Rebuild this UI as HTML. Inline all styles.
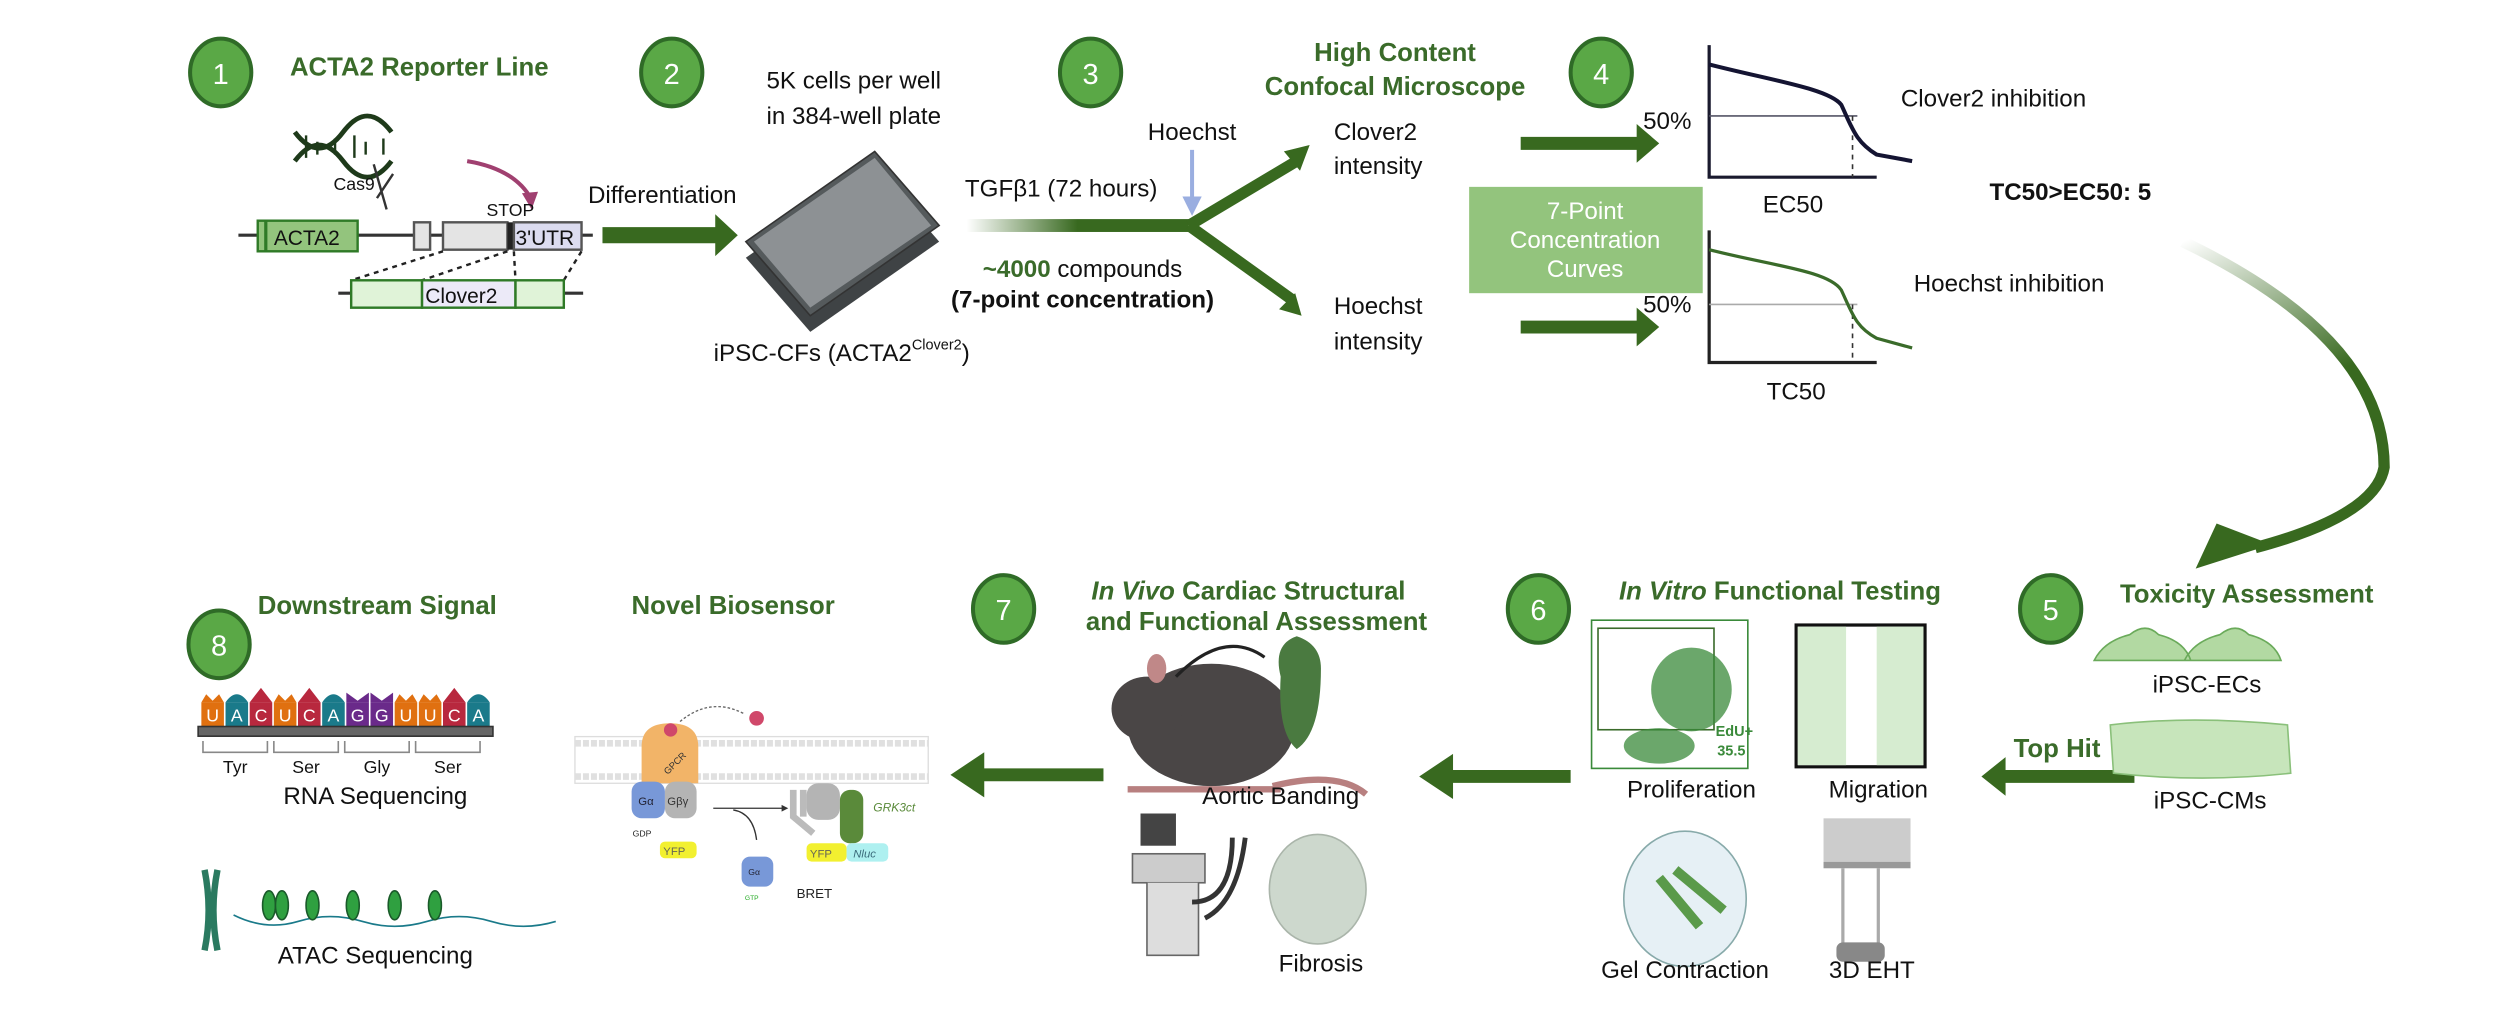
<!DOCTYPE html>
<html><head><meta charset="utf-8"><style>
html,body{margin:0;padding:0;background:#fff;}
svg{display:block;font-family:"Liberation Sans",sans-serif;}
.g{fill:#3a6b2a;font-weight:bold;font-size:16px;}
.t{fill:#111;font-size:15px;}
.s{fill:#111;font-size:11px;}
</style></head><body>
<svg width="2513" height="1011" viewBox="0 0 1560 627.6" xmlns="http://www.w3.org/2000/svg">
<defs>
<linearGradient id="fadeL" x1="0" x2="1"><stop offset="0" stop-color="#38691f" stop-opacity="0"/><stop offset="0.5" stop-color="#38691f"/></linearGradient>
<linearGradient id="curveG" x1="0" y1="0" x2="0.3" y2="1"><stop offset="0" stop-color="#38691f" stop-opacity="0"/><stop offset="0.6" stop-color="#38691f"/></linearGradient>
</defs>
<g stroke="#2f6b27" stroke-width="2.5" fill="#5aa846">
<ellipse cx="137" cy="45" rx="19" ry="21"/><ellipse cx="417" cy="45" rx="19" ry="21"/><ellipse cx="677" cy="45" rx="19" ry="21"/><ellipse cx="994" cy="45" rx="19" ry="21"/>
<ellipse cx="136" cy="400" rx="19" ry="21"/><ellipse cx="623" cy="378" rx="19" ry="21"/><ellipse cx="955" cy="378" rx="19" ry="21"/><ellipse cx="1273" cy="378" rx="19" ry="21"/>
</g>
<g fill="#fff" font-size="18" text-anchor="middle">
<text x="137" y="52">1</text><text x="417" y="52">2</text><text x="677" y="52">3</text><text x="994" y="52">4</text>
<text x="136" y="407">8</text><text x="623" y="385">7</text><text x="955" y="385">6</text><text x="1273" y="385">5</text>
</g>
<text class="g" x="180" y="47">ACTA2 Reporter Line</text>
<text class="t" x="530" y="55" text-anchor="middle">5K cells per well</text>
<text class="t" x="530" y="77" text-anchor="middle">in 384-well plate</text>
<text class="g" x="866" y="38" text-anchor="middle">High Content</text>
<text class="g" x="866" y="59" text-anchor="middle">Confocal Microscope</text>
<path d="M183,82 q15,20 30,0 t30,0 M183,100 q15,-20 30,0 t30,0" stroke="#1e3a1a" stroke-width="3" fill="none"/>
<g stroke="#1e3a1a" stroke-width="1.5"><path d="M190,84v14M197,88v8M208,86v10M220,84v14M227,88v8M238,86v10"/></g>
<text class="s" x="207" y="118" font-size="12">Cas9</text>
<path d="M232,102 l8,28 M244,108 l-10,15" stroke="#333" stroke-width="1.5" fill="none"/>
<path d="M290,100 q30,5 40,24" stroke="#a04070" stroke-width="2.5" fill="none"/><path d="M324,120 l6,10 l4,-11z" fill="#a04070"/>
<text class="s" x="302" y="134" font-size="12">STOP</text>
<line x1="148" y1="146" x2="368" y2="146" stroke="#333" stroke-width="2"/>
<rect x="160" y="137" width="62" height="19" fill="#93c47d" stroke="#2f7a27" stroke-width="1.5"/><line x1="165" y1="137" x2="165" y2="156" stroke="#2f7a27" stroke-width="2"/>
<text x="170" y="152" font-size="13" fill="#111">ACTA2</text>
<rect x="257" y="138" width="10" height="17" fill="#e4e4e4" stroke="#555" stroke-width="1.5"/>
<rect x="275" y="138" width="40" height="17" fill="#e4e4e4" stroke="#555" stroke-width="1.5"/>
<rect x="315" y="138" width="4" height="17" fill="#222"/>
<rect x="319" y="138" width="42" height="17" fill="#dcdcf0" stroke="#555" stroke-width="1.5"/>
<text x="320" y="152" font-size="13" fill="#111">3'UTR</text>
<g stroke="#222" stroke-width="1.5" stroke-dasharray="3,3" fill="none"><path d="M275,156 L218,174 M315,156 L262,174 M319,156 L320,174 M361,156 L350,174"/></g>
<line x1="210" y1="182" x2="362" y2="182" stroke="#333" stroke-width="2"/>
<rect x="218" y="174" width="44" height="17" fill="#e0f3d8" stroke="#2f7a27" stroke-width="1.5"/>
<rect x="262" y="174" width="58" height="17" fill="#eceaf8" stroke="#2f7a27" stroke-width="1.5"/>
<rect x="320" y="174" width="30" height="17" fill="#e0f3d8" stroke="#2f7a27" stroke-width="1.5"/>
<text x="264" y="188" font-size="13" fill="#111">Clover2</text>
<text class="t" x="365" y="126">Differentiation</text>
<path d="M374,141 h70 v-8 l14,13 l-14,13 v-8 h-70z" fill="#38691f"/>
<path d="M463,160 L543,104 L583,150 L503,206Z" fill="#3f4345"/>
<path d="M463,150 L543,94 L583,140 L503,196Z" fill="#555a5c" stroke="#333"/>
<path d="M468,150 L543,98 L578,140 L503,191Z" fill="#8d9194"/>
<text class="t" x="443" y="224">iPSC-CFs (ACTA2<tspan font-size="9" dy="-7">Clover2</tspan><tspan dy="7">)</tspan></text>
<text class="t" x="740" y="87" text-anchor="middle">Hoechst</text>
<line x1="740" y1="93" x2="740" y2="128" stroke="#9aaee0" stroke-width="2.5"/><path d="M734,122 l6,12 l6,-12z" fill="#9aaee0"/>
<text class="t" x="599" y="122">TGFβ1 (72 hours)</text>
<rect x="600" y="136" width="138" height="8" fill="url(#fadeL)"/>
<path d="M738,140 L805,100 M738,140 L802,186" stroke="#38691f" stroke-width="7" fill="none"/>
<path d="M797,94 l16,-4 l-6,16z M794,192 l14,4 l-4,-14z" fill="#38691f"/>
<text class="t" x="672" y="172" text-anchor="middle"><tspan fill="#3a6b2a" font-weight="bold">~4000</tspan> compounds</text>
<text class="t" x="672" y="191" text-anchor="middle" font-weight="bold">(7-point concentration)</text>
<text class="t" x="828" y="87">Clover2</text><text class="t" x="828" y="108">intensity</text>
<text class="t" x="828" y="195">Hoechst</text><text class="t" x="828" y="217">intensity</text>
<path d="M944,85 h72 v-8 l14,12 l-14,12 v-8 h-72z M944,199 h72 v-8 l14,12 l-14,12 v-8 h-72z" fill="#38691f"/>
<rect x="912" y="116" width="145" height="66" fill="#93c47d"/>
<g fill="#fff" font-size="15" text-anchor="middle"><text x="984" y="136">7-Point</text><text x="984" y="154">Concentration</text><text x="984" y="172">Curves</text></g>
<path d="M1061,28 V110 H1165" stroke="#1a1a2e" stroke-width="2" fill="none"/>
<line x1="1061" y1="72" x2="1153" y2="72" stroke="#556" stroke-width="1"/>
<line x1="1150" y1="72" x2="1150" y2="110" stroke="#333" stroke-dasharray="3,3"/>
<path d="M1061,40 C1100,50 1135,55 1143,65 C1150,80 1152,88 1165,96 L1187,100" stroke="#141432" stroke-width="2.5" fill="none"/>
<text class="t" x="1020" y="80">50%</text><text class="t" x="1113" y="132" text-anchor="middle">EC50</text>
<text class="t" x="1180" y="66">Clover2 inhibition</text>
<text x="1235" y="124" font-size="15" font-weight="bold" fill="#111">TC50&gt;EC50: 5</text>
<path d="M1061,143 V225 H1165" stroke="#222" stroke-width="2" fill="none"/>
<line x1="1061" y1="189" x2="1153" y2="189" stroke="#aaa" stroke-width="1"/>
<line x1="1150" y1="189" x2="1150" y2="225" stroke="#333" stroke-dasharray="3,3"/>
<path d="M1061,155 C1100,165 1135,168 1143,180 C1150,195 1152,203 1165,210 L1187,216" stroke="#3a6b2a" stroke-width="2" fill="none"/>
<text class="t" x="1020" y="194">50%</text><text class="t" x="1115" y="248" text-anchor="middle">TC50</text>
<text class="t" x="1188" y="181">Hoechst inhibition</text>
<path d="M1355,150 Q1480,210 1480,290 Q1475,320 1400,340" stroke="url(#curveG)" stroke-width="7" fill="none"/>
<path d="M1363,353 L1376,325 L1410,338Z" fill="#38691f"/>
<text class="g" x="160" y="381">Downstream Signal</text>
<text class="g" x="392" y="381">Novel Biosensor</text>
<text class="g" x="775" y="372" text-anchor="middle"><tspan font-style="italic">In Vivo</tspan> Cardiac Structural</text>
<text class="g" x="780" y="391" text-anchor="middle">and Functional Assessment</text>
<text class="g" x="1005" y="372"><tspan font-style="italic">In Vitro</tspan> Functional Testing</text>
<text class="g" x="1316" y="374">Toxicity Assessment</text>
<g font-size="11" fill="#fff" text-anchor="middle">
<rect x="125" y="436" width="14" height="15" fill="#e07010"/><text x="132" y="448">U</text>
<rect x="140" y="436" width="14" height="15" fill="#1a7a8a"/><text x="147" y="448">A</text>
<rect x="155" y="436" width="14" height="15" fill="#b8283e"/><text x="162" y="448">C</text>
<rect x="170" y="436" width="14" height="15" fill="#e07010"/><text x="177" y="448">U</text>
<rect x="185" y="436" width="14" height="15" fill="#b8283e"/><text x="192" y="448">C</text>
<rect x="200" y="436" width="14" height="15" fill="#1a7a8a"/><text x="207" y="448">A</text>
<rect x="215" y="436" width="14" height="15" fill="#6a2a8a"/><text x="222" y="448">G</text>
<rect x="230" y="436" width="14" height="15" fill="#6a2a8a"/><text x="237" y="448">G</text>
<rect x="245" y="436" width="14" height="15" fill="#e07010"/><text x="252" y="448">U</text>
<rect x="260" y="436" width="14" height="15" fill="#e07010"/><text x="267" y="448">U</text>
<rect x="275" y="436" width="14" height="15" fill="#b8283e"/><text x="282" y="448">C</text>
<rect x="290" y="436" width="14" height="15" fill="#1a7a8a"/><text x="297" y="448">A</text>
</g>
<g fill="#e07010"><path d="M125,436 l3,-5 l4,4 l4,-4 l3,5z M170,436 l3,-5 l4,4 l4,-4 l3,5z M245,436 l3,-5 l4,4 l4,-4 l3,5z M260,436 l3,-5 l4,4 l4,-4 l3,5z"/></g>
<g fill="#1a7a8a"><path d="M140,436 q7,-10 14,0z M200,436 q7,-10 14,0z M290,436 q7,-10 14,0z"/></g>
<g fill="#b8283e"><path d="M155,436 l7,-9 l7,9z M185,436 l7,-9 l7,9z M275,436 l7,-9 l7,9z"/></g>
<g fill="#6a2a8a"><path d="M215,436 l0,-6 l7,5 l7,-5 v6z M230,436 l0,-6 l7,5 l7,-5 v6z"/></g>
<rect x="123" y="451" width="183" height="6" fill="#666" stroke="#333"/>
<path d="M126,460 v7 h40 v-7 M170,460 v7 h40 v-7 M214,460 v7 h40 v-7 M258,460 v7 h40 v-7" stroke="#888" fill="none"/>
<g class="s" text-anchor="middle" font-size="12"><text x="146" y="480">Tyr</text><text x="190" y="480">Ser</text><text x="234" y="480">Gly</text><text x="278" y="480">Ser</text></g>
<text class="t" x="233" y="499" text-anchor="middle">RNA Sequencing</text>
<path d="M127,540 q5,25 0,50 M135,540 q-5,25 0,50" stroke="#2a7a60" stroke-width="4" fill="none"/>
<path d="M145,568 q20,10 40,4 t40,0 t40,0 t40,0 t40,0" stroke="#1a7a8a" fill="none"/>
<g fill="#2fa040" stroke="#1a5a2a"><ellipse cx="167" cy="562" rx="4" ry="9"/><ellipse cx="175" cy="562" rx="4" ry="9"/><ellipse cx="194" cy="562" rx="4" ry="9"/><ellipse cx="219" cy="562" rx="4" ry="9"/><ellipse cx="245" cy="562" rx="4" ry="9"/><ellipse cx="270" cy="562" rx="4" ry="9"/></g>
<text class="t" x="233" y="598" text-anchor="middle">ATAC Sequencing</text>
<g transform="translate(347.6,428.3) scale(0.2069)">
<rect x="45" y="140" width="1060" height="140" fill="#fff" stroke="#ddd" stroke-width="4"/>
<path d="M45,160 H1105 M45,260 H1105" stroke="#e0e0e0" stroke-width="20" stroke-dasharray="18,6"/>
<path d="M245,280 V170 q0,-70 85,-70 q85,0 85,70 V280z" fill="#f2b468"/>
<circle cx="332" cy="120" r="20" fill="#d0486a"/><circle cx="590" cy="85" r="22" fill="#d0486a"/>
<path d="M550,70 q-100,-50 -190,25" stroke="#666" stroke-width="4" stroke-dasharray="8,6" fill="none"/>
<text x="300" y="240" font-size="28" transform="rotate(-45 330 220)" fill="#333">GPCR</text>
<rect x="215" y="275" width="100" height="110" rx="30" fill="#7898d8"/><text x="235" y="345" font-size="34" fill="#223">Gα</text>
<rect x="315" y="275" width="95" height="110" rx="30" fill="#b4b4b4"/><text x="322" y="345" font-size="34" fill="#333">Gβγ</text>
<rect x="300" y="455" width="110" height="50" rx="15" fill="#f2f030"/><text x="310" y="495" font-size="34" fill="#665">YFP</text>
<text x="218" y="440" font-size="26" fill="#222">GDP</text>
<path d="M460,355 H680" stroke="#333" stroke-width="4"/><path d="M665,345 l20,10 l-20,10z" fill="#333"/>
<path d="M520,360 q60,10 70,90" stroke="#333" stroke-width="4" fill="none"/>
<rect x="545" y="500" width="95" height="90" rx="25" fill="#7898d8"/><text x="565" y="555" font-size="26" fill="#223">Gα</text>
<text x="555" y="630" font-size="20" fill="#2a2">GTP</text>
<path d="M700,300 V380 l60,50 M730,300 V380" stroke="#bbb" stroke-width="20" fill="none"/>
<rect x="740" y="280" width="100" height="110" rx="35" fill="#b4b4b4"/>
<rect x="840" y="300" width="70" height="160" rx="30" fill="#5a8a3a"/>
<text x="940" y="365" font-size="36" fill="#5a8a3a" font-style="italic">GRK3ct</text>
<rect x="740" y="460" width="120" height="55" rx="15" fill="#f2f030"/><text x="750" y="502" font-size="34" fill="#665">YFP</text>
<rect x="860" y="460" width="125" height="55" rx="15" fill="#aef0f0"/><text x="880" y="502" font-size="34" fill="#3a6a7a" font-style="italic">Nluc</text>
<text x="710" y="625" font-size="40" fill="#222">BRET</text>
</g>
<path d="M685,477 h-74 v-10 l-21,14 l21,14 v-10 h74z M975,478 h-73 v-10 l-21,14 l21,14 v-10 h73z M1325,478 h-80 v-8 l-15,12 l15,12 v-8 h80z" fill="#38691f"/>
<ellipse cx="752" cy="450" rx="52" ry="38" fill="#4a4646"/>
<ellipse cx="712" cy="440" rx="22" ry="20" fill="#4a4646"/>
<ellipse cx="718" cy="415" rx="6" ry="9" fill="#c08888"/>
<path d="M700,490 h95 M790,488 q40,-10 58,5" stroke="#b88080" stroke-width="4" fill="none"/>
<path d="M730,420 q30,-30 55,-12" stroke="#222" stroke-width="2" fill="none"/>
<path d="M795,420 q-5,-20 10,-25 q15,5 15,20 q0,40 -15,50 q-12,-10 -10,-45z" fill="#4a7a40"/>
<text class="t" x="795" y="499" text-anchor="middle">Aortic Banding</text>
<rect x="708" y="505" width="22" height="20" fill="#444"/>
<rect x="703" y="530" width="45" height="18" fill="#ccc" stroke="#666"/>
<path d="M712,548 v45 h32 v-45" stroke="#666" fill="#ddd"/>
<path d="M740,560 q25,0 25,-40 M748,570 q20,-10 25,-50" stroke="#333" stroke-width="3" fill="none"/>
<ellipse cx="818" cy="552" rx="30" ry="34" fill="#cdd8cd" stroke="#aab5aa"/>
<text class="t" x="820" y="603" text-anchor="middle">Fibrosis</text>
<rect x="988" y="385" width="97" height="92" fill="none" stroke="#3a8a3a"/>
<rect x="992" y="390" width="72" height="63" fill="none" stroke="#3a6b2a"/>
<ellipse cx="1050" cy="428" rx="25" ry="26" fill="#3a8a3a" opacity="0.75"/>
<ellipse cx="1030" cy="463" rx="22" ry="11" fill="#3a8a3a" opacity="0.75"/>
<text x="1065" y="457" font-size="9" fill="#3a8a3a" font-weight="bold">EdU+</text>
<text x="1066" y="469" font-size="9" fill="#3a8a3a" font-weight="bold">35.5</text>
<text class="t" x="1050" y="495" text-anchor="middle">Proliferation</text>
<rect x="1115" y="388" width="80" height="88" fill="#fff" stroke="#111" stroke-width="2"/>
<rect x="1116" y="389" width="30" height="86" fill="#d6ecd0"/><rect x="1165" y="389" width="29" height="86" fill="#d6ecd0"/>
<text class="t" x="1166" y="495" text-anchor="middle">Migration</text>
<ellipse cx="1046" cy="558" rx="38" ry="42" fill="#e6f0f5" stroke="#8aa"/>
<path d="M1030,545 l25,30 M1040,540 l30,25" stroke="#5a9a4a" stroke-width="6" fill="none"/>
<text class="t" x="1046" y="607" text-anchor="middle">Gel Contraction</text>
<rect x="1132" y="508" width="54" height="27" fill="#ccc"/><rect x="1132" y="535" width="54" height="4" fill="#999"/>
<path d="M1144,539 v50 M1166,539 v50" stroke="#aaa" stroke-width="2"/><rect x="1140" y="585" width="30" height="12" rx="4" fill="#888"/>
<text class="t" x="1162" y="607" text-anchor="middle">3D EHT</text>
<text x="1250" y="470" font-size="16" font-weight="bold" fill="#3a6b2a">Top Hit</text>
<path d="M1300,410 q6,-12 22,-16 q10,-8 18,0 q16,4 20,16z M1356,410 q6,-12 22,-16 q10,-8 18,0 q16,4 20,16z" fill="#b2d9a2" stroke="#6aaa5a"/>
<text class="t" x="1370" y="430" text-anchor="middle">iPSC-ECs</text>
<path d="M1310,450 q50,-6 110,0 l2,30 q-55,6 -110,0z" fill="#c7e5bb" stroke="#8ac07a"/>
<text class="t" x="1372" y="502" text-anchor="middle">iPSC-CMs</text>
</svg>
</body></html>
